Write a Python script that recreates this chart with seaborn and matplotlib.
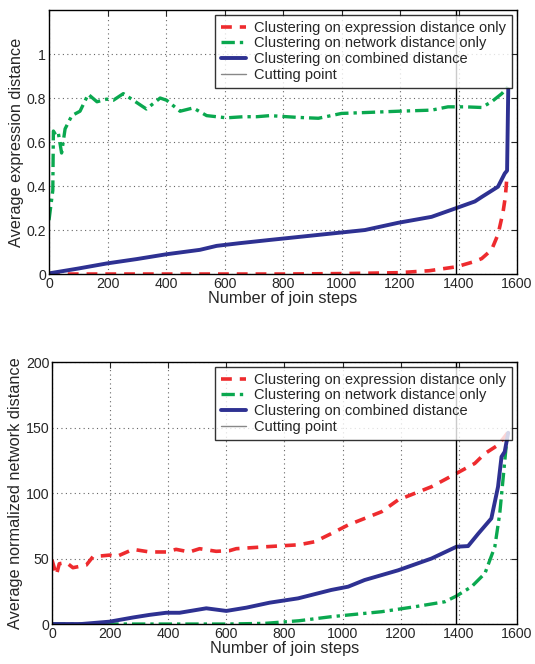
import matplotlib
matplotlib.use('Agg')
import matplotlib.pyplot as plt
import seaborn as sns

# ---- top panel: average expression distance ----
top_expr_x = [0, 200, 400, 600, 800, 1000, 1100, 1194, 1300, 1393, 1450, 1479, 1513, 1535, 1552, 1560, 1566]
top_expr_y = [0.0, 0.0, 0.0, 0.0, 0.0, 0.002, 0.004, 0.006, 0.015, 0.033, 0.055, 0.07, 0.11, 0.18, 0.28, 0.35, 0.45]

top_net_x = [0, 13, 15, 24, 32, 43, 55, 78, 106, 134, 164, 197, 220, 254, 288, 333, 380, 402, 448, 493,
             539, 607, 664, 710, 755, 850, 921, 1000, 1100, 1194, 1308, 1364, 1422, 1479, 1513, 1548, 1569]
top_net_y = [0.245, 0.38, 0.65, 0.63, 0.64, 0.55, 0.66, 0.72, 0.74, 0.817, 0.783, 0.795, 0.79, 0.82, 0.79, 0.75, 0.8, 0.79, 0.74, 0.755,
             0.72, 0.71, 0.715, 0.715, 0.72, 0.712, 0.708, 0.73, 0.735, 0.74, 0.745, 0.76, 0.76, 0.757, 0.783, 0.82, 0.85]

top_comb_x = [0, 100, 197, 300, 402, 516, 573, 650, 755, 900, 1080, 1194, 1308, 1393, 1456, 1479, 1535, 1558, 1566, 1570]
top_comb_y = [0.003, 0.025, 0.048, 0.068, 0.09, 0.11, 0.128, 0.14, 0.155, 0.175, 0.2, 0.233, 0.26, 0.30, 0.33, 0.35, 0.397, 0.457, 0.47, 0.84]

# ---- bottom panel: average normalized network distance ----
bot_expr_x = [0, 15, 25, 49, 72, 118, 141, 198, 221, 279, 336, 393, 427, 473, 508, 565, 611, 634, 737,
              850, 904, 961, 1019, 1134, 1191, 1306, 1392, 1455, 1489, 1535, 1558, 1568]
bot_expr_y = [48.9, 37.4, 46, 47, 43, 45, 51.4, 52.6, 51.4, 57, 55, 55, 57, 55, 57.5, 55.5, 56, 57.5, 59,
              60.5, 62.8, 69, 75.6, 85.7, 94.7, 104.8, 115, 122.6, 130, 136.6, 143, 146]

bot_net_x = [0, 200, 400, 600, 732, 850, 961, 1134, 1249, 1352, 1392, 1444, 1490, 1524, 1541, 1552, 1564, 1570]
bot_net_y = [0, 0, 0, 0, 0.5, 2.5, 5.6, 9.4, 13.2, 17, 21.4, 28.5, 38.7, 59, 84.5, 110, 138, 146]

bot_comb_x = [0, 100, 198, 279, 336, 393, 439, 531, 600, 669, 749, 847, 961, 1019, 1076, 1191, 1306, 1392,
              1432, 1467, 1512, 1535, 1547, 1558, 1570]
bot_comb_y = [0, 0, 1.8, 5, 7, 8.6, 8.6, 12, 10, 12.5, 16.3, 19.6, 26, 28.5, 33.6, 41, 50, 59,
              59.5, 69, 80.6, 104.8, 127.7, 131.5, 146]

cut_step = 1392
labels = ['Clustering on expression distance only',
          'Clustering on network distance only',
          'Clustering on combined distance',
          'Cutting point']

red = '#ee2b2e'
green = '#0aa84f'
blue = '#2e3192'

sns.set_style('white')
plt.rcParams['font.family'] = ['Liberation Sans', 'DejaVu Sans']

fig = plt.figure(figsize=(5.35, 6.64), dpi=100)
ax1 = fig.add_axes([0.0916, 0.5873, 0.8748, 0.3976])
ax2 = fig.add_axes([0.0972, 0.0602, 0.869, 0.3946])


def draw_panel(ax, ex, ey, nx, ny, cx, cy, ylim, yticks, ylabel):
    sns.lineplot(x=ex, y=ey, ax=ax, color=red, linewidth=2.6, linestyle=(0, (3, 2.2)),
                 label=labels[0], estimator=None, sort=False)
    sns.lineplot(x=nx, y=ny, ax=ax, color=green, linewidth=2.4, linestyle=(0, (4, 1.5, 1, 1.5)),
                 label=labels[1], estimator=None, sort=False)
    sns.lineplot(x=cx, y=cy, ax=ax, color=blue, linewidth=2.8, linestyle='-',
                 label=labels[2], estimator=None, sort=False)
    ax.axvline(cut_step, color='black', linewidth=1.0, label=labels[3])
    ax.set_xlim(0, 1600)
    ax.set_ylim(*ylim)
    ax.set_yticks(yticks)
    ax.set_xticks(range(0, 1601, 200))
    ax.grid(True, linestyle=(0, (1, 3)), color='#666666', linewidth=0.8)
    ax.tick_params(direction='in', top=True, right=True, labelsize=10.2, length=4, pad=2)
    for s in ax.spines.values():
        s.set_color('black')
        s.set_linewidth(1.0)
    ax.set_xlabel('Number of join steps', fontsize=11.7, labelpad=0)
    ax.set_ylabel(ylabel, fontsize=11.7, labelpad=2)
    leg = ax.legend(loc='upper right', fontsize=10.5, frameon=True, fancybox=False,
                    handlelength=1.7, borderpad=0.4, labelspacing=0.12,
                    borderaxespad=0.33, handletextpad=0.6)
    leg.get_frame().set_edgecolor('black')
    leg.get_frame().set_linewidth(1.0)
    leg.legend_handles[3].set_color('#888888')


draw_panel(ax1, top_expr_x, top_expr_y, top_net_x, top_net_y, top_comb_x, top_comb_y,
           (0, 1.2), [0, 0.2, 0.4, 0.6, 0.8, 1.0], 'Average expression distance')
ax1.set_yticklabels(['0', '0.2', '0.4', '0.6', '0.8', '1'])

draw_panel(ax2, bot_expr_x, bot_expr_y, bot_net_x, bot_net_y, bot_comb_x, bot_comb_y,
           (0, 200), [0, 50, 100, 150, 200], 'Average normalized network distance')

fig.savefig('out.png', dpi=100)
